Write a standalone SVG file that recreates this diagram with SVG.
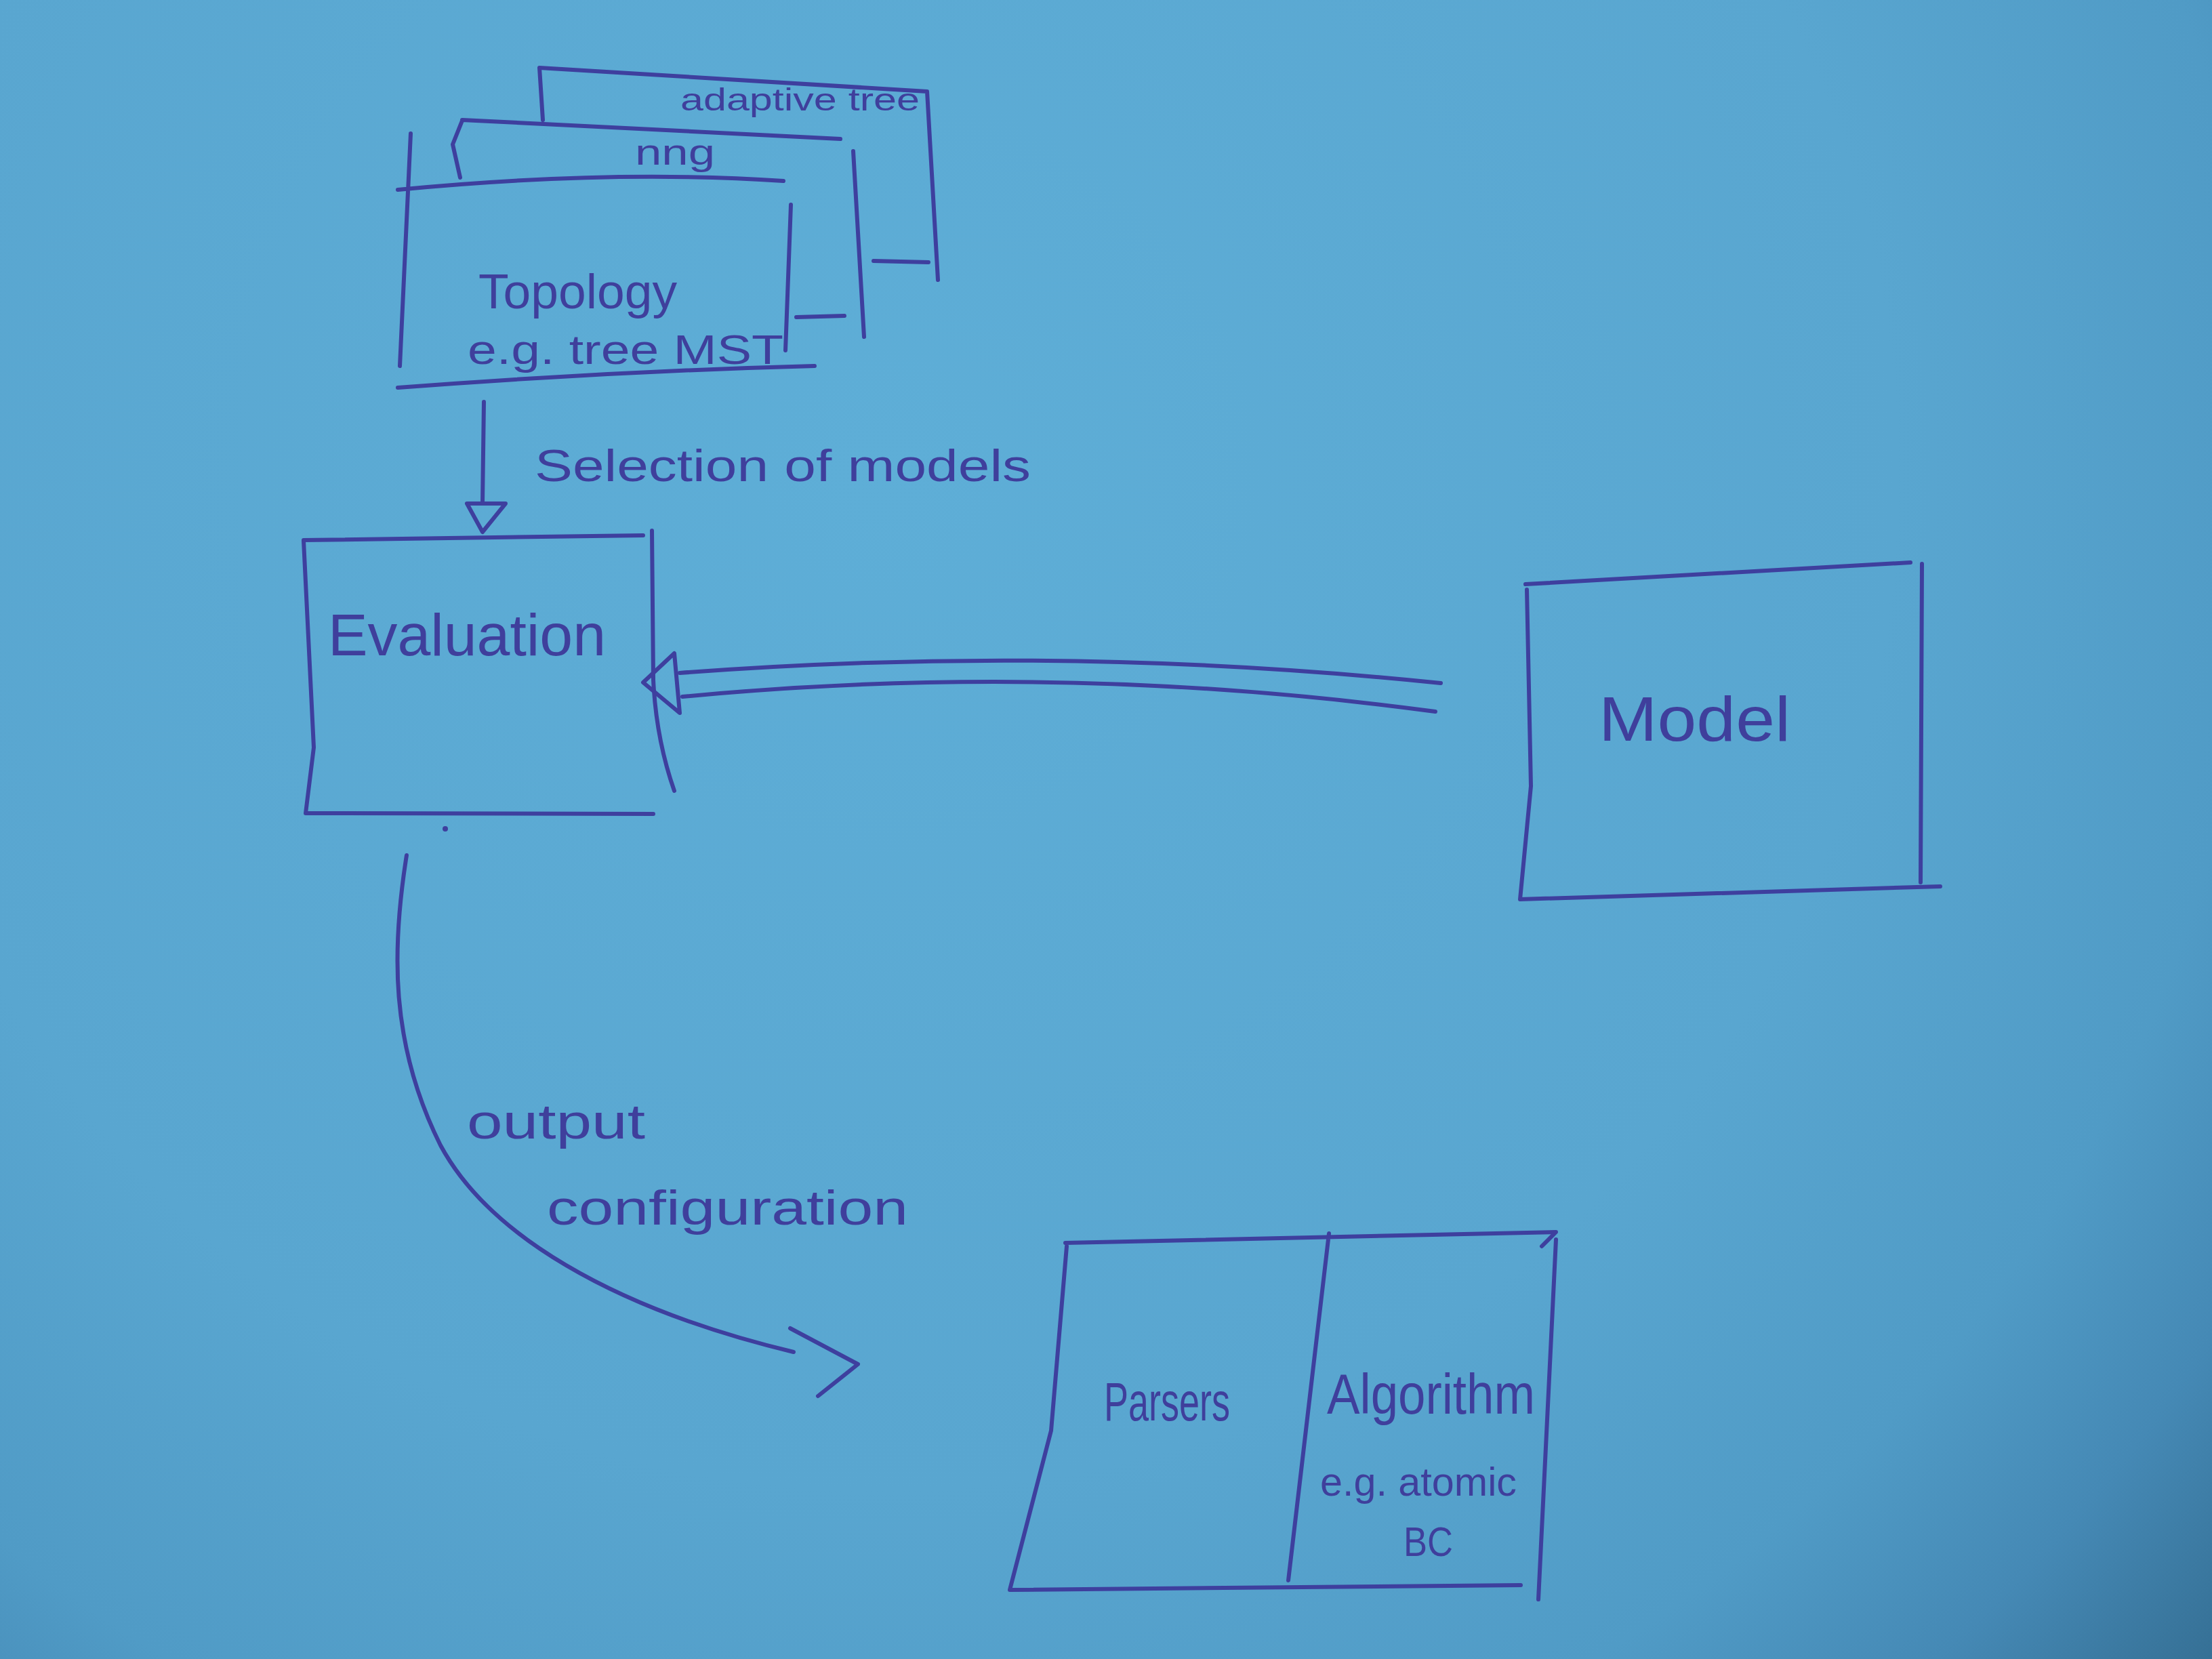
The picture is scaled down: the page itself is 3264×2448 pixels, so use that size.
<svg xmlns="http://www.w3.org/2000/svg" width="3264" height="2448" viewBox="0 0 3264 2448">
<defs>
<radialGradient id="paper" gradientUnits="userSpaceOnUse" cx="1300" cy="700" r="3000">
<stop offset="0" stop-color="#5eaed7"/>
<stop offset="0.5" stop-color="#59a6d0"/>
<stop offset="0.68" stop-color="#509bc6"/>
<stop offset="0.78" stop-color="#4589b5"/>
<stop offset="0.88" stop-color="#356f94"/>
<stop offset="1" stop-color="#27587a"/>
</radialGradient>
</defs>
<style>
.ink{fill:none;stroke:#3e3f9e;stroke-width:6;stroke-linecap:round;stroke-linejoin:round}
.lbl{font-family:"Liberation Sans",Arial,sans-serif;fill:#3f3f9c}
</style>
<rect x="0" y="0" width="3264" height="2448" fill="url(#paper)"/>

<g id="node-adaptive-tree">
<path class="ink" d="M796,100 L1368,135 M796,100 L801,177 M1368,135 L1384,413 M1289,385 L1370,387"/>
<text class="lbl" x="1004" y="163" font-size="46" textLength="353" lengthAdjust="spacingAndGlyphs">adaptive tree</text>
</g>

<g id="node-nng">
<path class="ink" d="M682,177 L1240,205 M682,178 L668,213 L679,262 M1259,223 L1275,497 M1175,468 L1246,466"/>
<text class="lbl" x="937" y="243" font-size="54" textLength="118" lengthAdjust="spacingAndGlyphs">nng</text>
</g>

<g id="node-topology">
<path class="ink" d="M587,280 Q898,250 1156,267 M606,197 L590,540 M1167,302 L1159,517 M587,572 Q900,548 1202,540"/>
<text class="lbl" x="706" y="455" font-size="72" textLength="293" lengthAdjust="spacingAndGlyphs">Topology</text>
<text class="lbl" x="690" y="537" font-size="62" textLength="466" lengthAdjust="spacingAndGlyphs">e.g. tree MST</text>
</g>

<g id="node-evaluation">
<path class="ink" d="M448,797 L949,790 M448,798 L463,1103 L451,1200 M451,1200 L964,1201 M962,783 L964,1003 Q968,1090 995,1167"/>
<text class="lbl" x="484" y="967" font-size="88" textLength="410" lengthAdjust="spacingAndGlyphs">Evaluation</text>
<circle cx="657" cy="1223" r="4" fill="#3e3f9e"/>
</g>

<g id="node-model">
<path class="ink" d="M2251,862 L2819,830 M2836,832 L2834,1302 M2253,870 L2259,1160 L2243,1327 M2243,1327 L2863,1308"/>
<text class="lbl" x="2359" y="1093" font-size="92" textLength="283" lengthAdjust="spacingAndGlyphs">Model</text>
</g>

<g id="node-parsers-algorithm">
<path class="ink" d="M1572,1834 L2296,1818 L2275,1839 M1574,1839 L1551,2111 L1490,2346 M1490,2346 L2244,2339 M2296,1829 L2270,2360 M1961,1820 L1901,2332"/>
<text class="lbl" x="1629" y="2096" font-size="80" textLength="186" lengthAdjust="spacingAndGlyphs">Parsers</text>
<text class="lbl" x="1958" y="2086" font-size="84" textLength="307" lengthAdjust="spacingAndGlyphs">Algorithm</text>
<text class="lbl" x="1948" y="2207" font-size="60" textLength="290" lengthAdjust="spacingAndGlyphs">e.g. atomic</text>
<text class="lbl" x="2071" y="2296" font-size="62" textLength="73" lengthAdjust="spacingAndGlyphs">BC</text>
</g>

<g id="connectors">
<g id="edge-selection">
<path class="ink" d="M714,593 L712,743"/>
<path class="ink" d="M689,743 L746,743 L712,785 Z"/>
<text class="lbl" x="789" y="710" font-size="66" textLength="732" lengthAdjust="spacingAndGlyphs">Selection of models</text>
</g>
<g id="edge-model-evaluation">
<path class="ink" d="M2126,1008 Q1564,950 1003,993"/>
<path class="ink" d="M2118,1050 Q1562,975 1007,1028"/>
<path class="ink" d="M949,1007 L995,964 L1003,1052 Z"/>
</g>
<g id="edge-output">
<path class="ink" d="M600,1262 C578,1400 575,1540 650,1690 C720,1820 900,1930 1171,1995"/>
<path class="ink" d="M1166,1960 L1266,2013 L1207,2060"/>
<text class="lbl" x="689" y="1680" font-size="72" textLength="263" lengthAdjust="spacingAndGlyphs">output</text>
<text class="lbl" x="807" y="1807" font-size="72" textLength="533" lengthAdjust="spacingAndGlyphs">configuration</text>
</g>
</g>
</svg>
